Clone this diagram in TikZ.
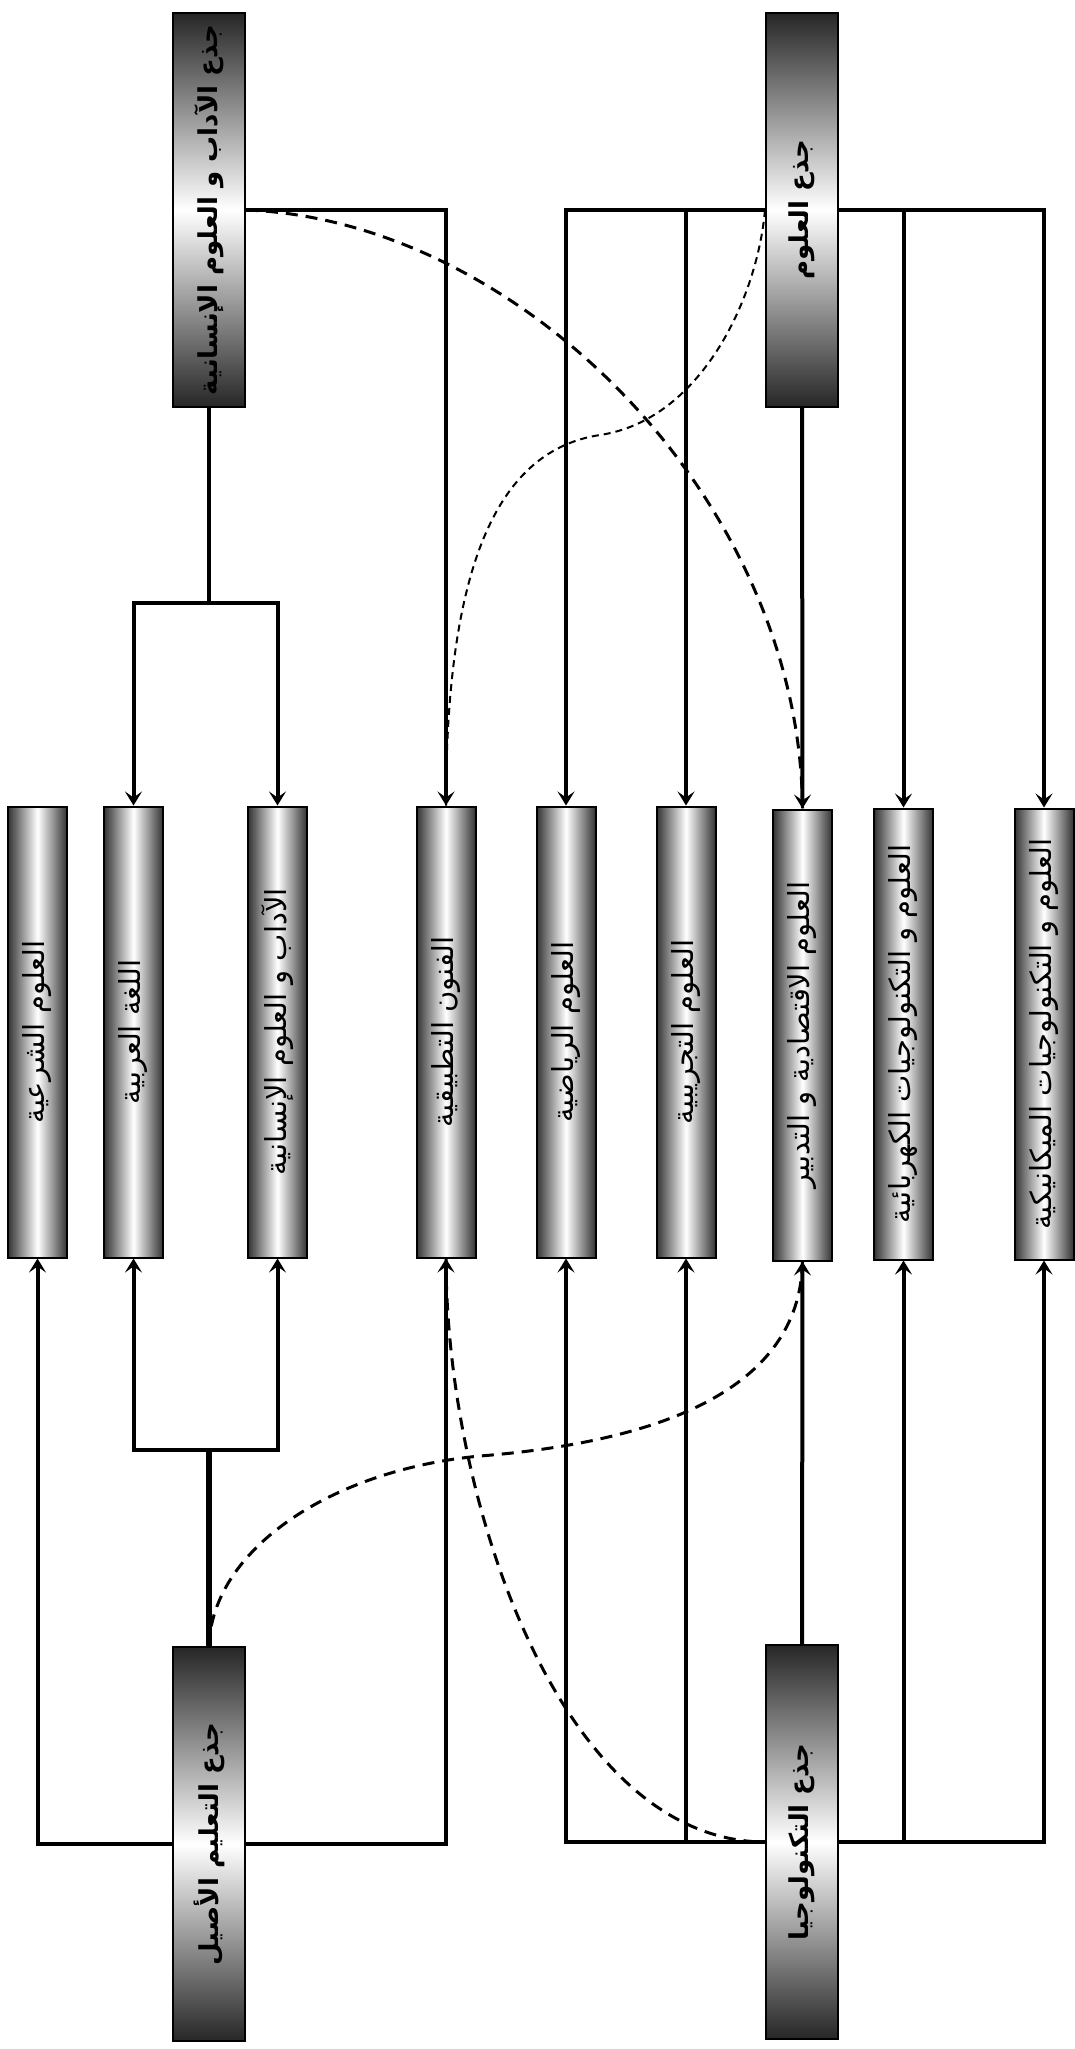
\documentclass[tikz,border=0pt]{standalone}
\usepackage{fontspec}
\newfontfamily\arabicfont[Script=Arabic]{DejaVu Sans}
\TeXXeTstate=1
\newcommand\vtext[1]{\rotatebox{90}{\arabicfont\beginR #1\endR}}
\usetikzlibrary{arrows.meta,calc}
\tikzset{
    trunk/.style ={draw, line width=1pt, inner sep=0pt, minimum width=36pt, minimum height=197pt,
                   top color=black!85, bottom color=black!85, middle color=white,
                   font=\fontsize{13}{15}\selectfont\bfseries},
    stream/.style={draw, line width=1pt, inner sep=0pt, minimum width=29.5pt, minimum height=225.5pt,
                   left color=black!80, right color=black!80, middle color=white,
                   font=\fontsize{14.5}{16}\selectfont},
    link/.style  ={line width=2pt, -{Stealth[length=7pt,width=8.5pt,inset=3pt]}},
    bar/.style   ={line width=2pt},
    dlink/.style ={line width=1.5pt, dash pattern=on 6pt off 4pt},
    thin dlink/.style={line width=1pt, dash pattern=on 3.5pt off 2.5pt}
}

\begin{document}
\begin{tikzpicture}[x=0.5pt, y=-0.5pt]
    \useasboundingbox (0,0) rectangle (1075,2049);

    % trunks
    \node[trunk] (tAdab) at (209,210)  {\vtext{جذع الآداب و العلوم الإنسانية}};
    \node[trunk] (tUlum) at (802,210)  {\vtext{جذع العلوم}};
    \node[trunk] (tAsil) at (209,1844) {\vtext{جذع التعليم الأصيل}};
    \node[trunk] (tTech) at (802,1842) {\vtext{جذع التكنولوجيا}};

    % streams
    \node[stream] (shar)   at (37.5,1032)  {\vtext{العلوم الشرعية}};
    \node[stream] (lugha)  at (133.5,1032) {\vtext{اللغة العربية}};
    \node[stream] (adab)   at (277.5,1032) {\vtext{الآداب و العلوم الإنسانية}};
    \node[stream] (funun)  at (446,1032)   {\vtext{الفنون التطبيقية}};
    \node[stream] (riyad)  at (566,1032)   {\vtext{العلوم الرياضية}};
    \node[stream] (tajrib) at (686,1032)   {\vtext{العلوم التجريبية}};
    \node[stream] (iqtis)  at (802.5,1035) {\vtext{العلوم الاقتصادية و التدبير}};
    \node[stream] (kahr)   at (903.5,1034) {\vtext{العلوم و التكنولوجيات الكهربائية}};
    \node[stream] (mikan)  at (1044,1034)  {\vtext{العلوم و التكنولوجيات الميكانيكية}};

    \coordinate (jAdab) at (209,603);
    \coordinate (jAsil) at (209,1450);

    % top links
    \draw[bar] (tAdab.south) -- (jAdab);
    \draw[link] (jAdab) -| (lugha.north);
    \draw[link] (jAdab) -| (adab.north);
    \draw[link] (tAdab.east) -| (funun.north);
    \draw[link] (tUlum.west) -| (riyad.north);
    \draw[link] (tUlum.west) -| (tajrib.north);
    \draw[link] (tUlum.south) -- (iqtis.north);
    \draw[link] (tUlum.east) -| (kahr.north);
    \draw[link] (tUlum.east) -| (mikan.north);

    % bottom links
    \draw[bar, line width=2.6pt] (tAsil.north) -- (jAsil);
    \draw[link] (jAsil) -| (lugha.south);
    \draw[link] (jAsil) -| (adab.south);
    \draw[link] (tAsil.west) -| (shar.south);
    \draw[link] (tAsil.east) -| (funun.south);
    \draw[link] (tTech.west) -| (riyad.south);
    \draw[link] (tTech.west) -| (tajrib.south);
    \draw[link] (tTech.north) -- (iqtis.south);
    \draw[link] (tTech.east) -| (kahr.south);
    \draw[link] (tTech.east) -| (mikan.south);

    % crossing paths
    \draw[dlink] (tAdab.east) .. controls (520,220) and (800,500) .. (iqtis.north);
    \draw[thin dlink] (tUlum.west) .. controls (757,300) and (700,420) .. (600,435)
        .. controls (500,450) and (446,560) .. (funun.north);
    \draw[dlink] (tAsil.north) .. controls (212,1550) and (330,1470) .. (480,1456)
        .. controls (680,1440) and (800,1380) .. (iqtis.south);
    \draw[dlink] (funun.south) .. controls (446,1500) and (560,1841) .. (tTech.west);
\end{tikzpicture}
\end{document}
